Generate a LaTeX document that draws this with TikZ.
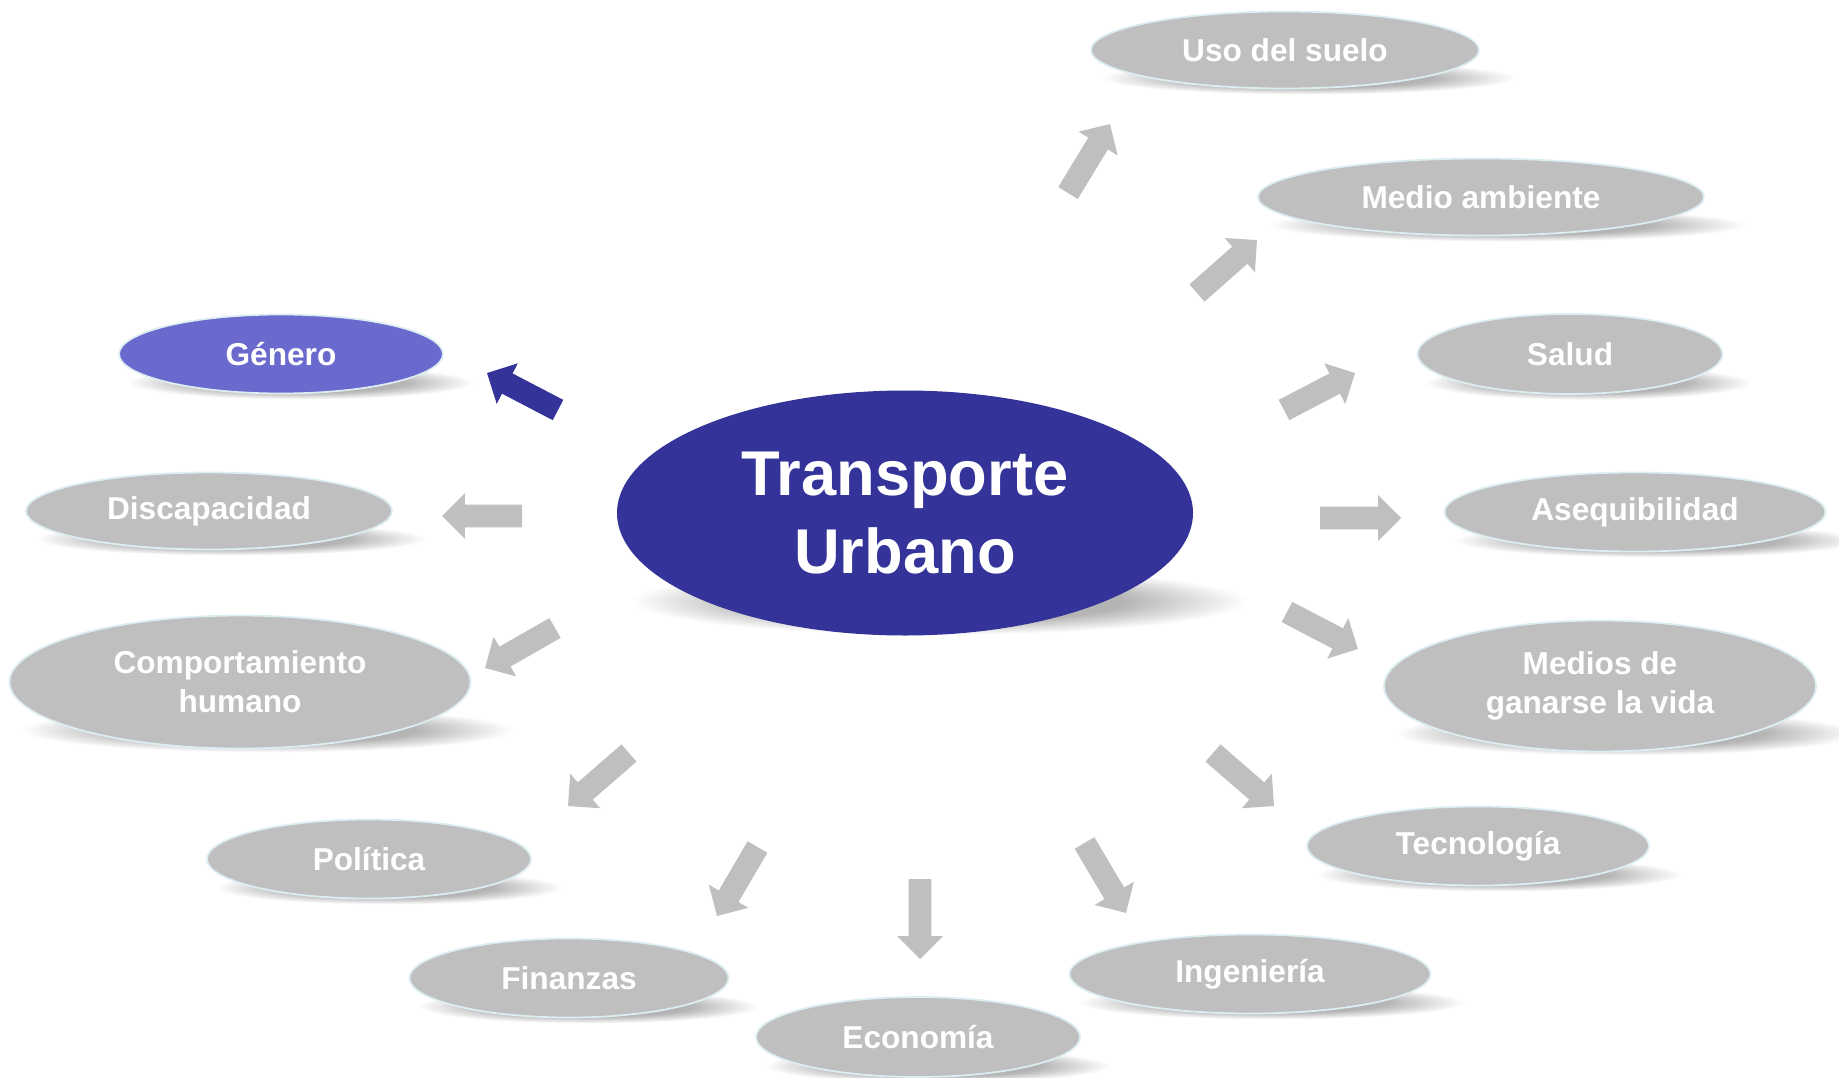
\documentclass[tikz,border=0pt]{standalone}
\usepackage{fontspec}
\setmainfont{Liberation Sans}
\usetikzlibrary{shapes.geometric,shapes.arrows,calc}
\definecolor{satgray}{RGB}{191,191,191}
\definecolor{navy}{RGB}{51,51,153}
\definecolor{genblue}{RGB}{106,106,206}
\definecolor{rimcol}{RGB}{220,238,242}
\pgfdeclareradialshading{softshadow}{\pgfpointorigin}{color(0bp)=(black!33); color(15bp)=(black!29); color(25bp)=(white); color(50bp)=(white)}
\pgfdeclarelayer{paper}
\pgfdeclarelayer{bg}
\pgfsetlayers{paper,bg,main}
\tikzset{
  satnode/.style={ellipse, fill=satgray, draw=rimcol, line width=1pt, text=white,
    font=\bfseries\fontsize{18}{22}\selectfont, align=center, inner sep=0pt},
  gennode/.style={satnode, fill=genblue},
  hubnode/.style={ellipse, fill=navy, draw=none, text=white,
    font=\bfseries\fontsize{36}{44}\selectfont, align=center, inner sep=0pt},
  blockarrow/.style={single arrow, draw=none, inner xsep=0pt, inner ysep=6.3pt,
    minimum width=25.6pt, single arrow head extend=6.5pt, single arrow tip angle=90,
    outer sep=0pt, anchor=tail},
}
\newcommand\sat[7]{%
  \begin{pgfonlayer}{bg}
    \shade[shading=softshadow] ({#2+0.06*#4},{#3+0.36*#5})
      ellipse [x radius={0.535*#4*0.02cm}, y radius={(0.1*#5+9)*0.02cm}];
  \end{pgfonlayer}
  \node[#7, minimum width={#4*0.02cm}, minimum height={#5*0.02cm}] (#1) at (#2,#3) {#6};
}
\newcommand\barrow[4]{%
  \coordinate (#1-t) at #2;
  \coordinate (#1-h) at #3;
  \path let \p1=($(#1-h)-(#1-t)$), \n1={atan2(\y1,\x1)}, \n2={veclen(\x1,\y1)} in
    node[blockarrow, fill=#4, rotate=\n1, minimum height=\n2] (#1) at (#1-t) {};
}
\begin{document}
\begin{tikzpicture}[x=0.02cm, y=-0.02cm]
\begin{pgfonlayer}{paper}
\fill[white] (0,0) rectangle (1839,1078);
\end{pgfonlayer}
\useasboundingbox (0,0) rectangle (1839,1078);

% hub
\sat{hub}{905}{513}{576}{245}{Transporte\\Urbano}{hubnode}

% satellites
\sat{uso}{1285}{50}{388}{77}{Uso del suelo}{satnode}
\sat{medio}{1481}{197}{446}{77}{Medio ambiente}{satnode}
\sat{salud}{1570}{354}{305}{80}{Salud}{satnode}
\sat{aseq}{1635}{512}{381}{79}{Asequibilidad}{satnode}
\sat{medios}{1600}{686}{432}{131}{Medios de\\ganarse la vida}{satnode}
\sat{tecno}{1478}{846}{342}{79}{Tecnología}{satnode}
\sat{ing}{1250}{974}{361}{79}{Ingeniería}{satnode}
\sat{eco}{918}{1037}{324}{80}{Economía}{satnode}
\sat{fin}{569}{978}{319}{79}{Finanzas}{satnode}
\sat{pol}{369}{859}{324}{79}{Política}{satnode}
\sat{comp}{240}{682}{461}{133}{Comportamiento\\humano}{satnode}
\sat{disc}{209}{511}{366}{77}{Discapacidad}{satnode}
\sat{gen}{281}{354}{324}{79}{Género}{gennode}

% block arrows (tail -> tip)
\barrow{aUso}{(1068,193)}{(1110,124)}{satgray}
\barrow{aMedio}{(1197,293)}{(1257,240)}{satgray}
\barrow{aSalud}{(1284,410)}{(1355,373)}{satgray}
\barrow{aAseq}{(1320,518)}{(1401,518)}{satgray}
\barrow{aMedios}{(1287,612)}{(1358,649)}{satgray}
\barrow{aTecno}{(1213,753)}{(1274,806)}{satgray}
\barrow{aIng}{(1084.5,843)}{(1126,913)}{satgray}
\barrow{aEco}{(920,879)}{(920,959)}{satgray}
\barrow{aFin}{(757.5,847)}{(717,916)}{satgray}
\barrow{aPol}{(629,753)}{(568,806)}{satgray}
\barrow{aComp}{(555,628)}{(485,668)}{satgray}
\barrow{aDisc}{(522,516)}{(442,516)}{satgray}
\barrow{aGen}{(558,410)}{(487,373)}{navy}
\end{tikzpicture}
\end{document}
